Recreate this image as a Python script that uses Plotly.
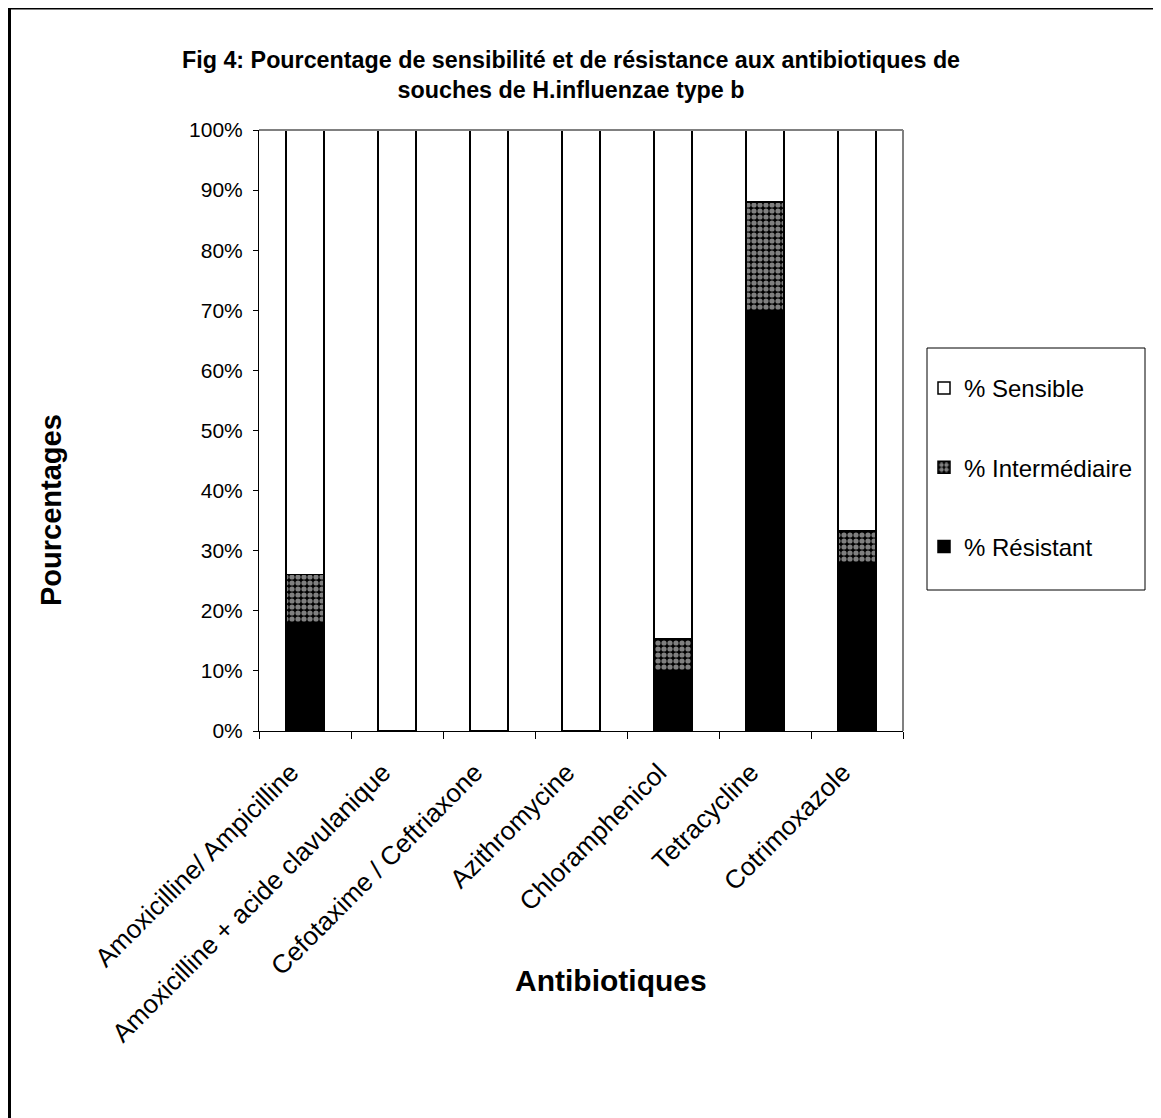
import plotly.graph_objects as go

# the page body adds an 8px margin, so the figure is a bit smaller than the window
W, H = 1153, 1110
OFF = 8
# plot area in window pixels
PL, PR, PT, PB = 259, 903, 130, 731

antibiotiques = [
    "Amoxicilline/ Ampicilline",
    "Amoxicilline + acide clavulanique",
    "Cefotaxime / Ceftriaxone",
    "Azithromycine",
    "Chloramphenicol",
    "Tetracycline",
    "Cotrimoxazole",
]
resistant = [18, 0, 0, 0, 10, 70, 28]
intermediaire = [8, 0, 0, 0, 5.3, 18, 5.3]
sensible = [74, 100, 100, 100, 84.7, 12, 66.7]
y_ticks = list(range(0, 101, 10))
y_tick_labels = [f"{v}%" for v in y_ticks]

FONT = "Liberation Sans, Arial, sans-serif"


def px(x):
    return (x - PL) / (PR - PL)


def py(y):
    return (PB - y) / (PB - PT)


line = dict(color="black", width=1.5)
fig = go.Figure()
fig.add_trace(go.Bar(
    x=antibiotiques, y=resistant, name="% Résistant", legendgroup="r", legendrank=3,
    marker=dict(color="black", line=line),
))
fig.add_trace(go.Bar(
    x=antibiotiques, y=intermediaire, name="% Intermédiaire", legendgroup="i", legendrank=2,
    marker=dict(color="black", line=line,
                pattern=dict(shape=".", fgcolor="white", bgcolor="black", size=6, solidity=0.6)),
))
fig.add_trace(go.Bar(
    x=antibiotiques, y=sensible, name="% Sensible", legendgroup="s", legendrank=1,
    marker=dict(color="white", line=line),
))

shapes = [
    # outer chart border
    dict(type="rect", xref="paper", yref="paper",
         x0=px(9.5), x1=px(1175), y0=py(1130), y1=py(8),
         line=dict(color="black", width=3)),
    # plot area top / right edges
    dict(type="line", xref="paper", yref="paper", x0=0, x1=1, y0=1, y1=1,
         line=dict(color="#808080", width=2)),
    dict(type="line", xref="paper", yref="paper", x0=1, x1=1, y0=0, y1=1,
         line=dict(color="#808080", width=2)),
    # legend box
    dict(type="rect", xref="paper", yref="paper",
         x0=px(927), x1=px(1145), y0=py(590), y1=py(348),
         line=dict(color="black", width=1)),
]

annotations = [
    dict(text="<b>Fig 4: Pourcentage de sensibilité et de résistance aux antibiotiques de<br>"
              "souches de H.influenzae type b</b>",
         xref="paper", yref="paper", x=px(571), y=py(75), showarrow=False,
         xanchor="center", yanchor="middle", font=dict(size=23.3, color="black", family=FONT)),
    dict(text="<b>Pourcentages</b>", xref="paper", yref="paper", x=px(51), y=py(510),
         showarrow=False, textangle=-90, xanchor="center", yanchor="middle",
         font=dict(size=29, color="black", family=FONT)),
    dict(text="<b>Antibiotiques</b>", xref="paper", yref="paper", x=px(611), y=py(980),
         showarrow=False, xanchor="center", yanchor="middle",
         font=dict(size=30, color="black", family=FONT)),
]

fig.update_layout(
    width=W, height=H,
    barmode="stack", bargap=0.59,
    margin=dict(l=PL - OFF, r=W - (PR - OFF), t=PT - OFF, b=H - (PB - OFF), autoexpand=False),
    paper_bgcolor="white", plot_bgcolor="white",
    font=dict(family=FONT, color="black", size=21),
    showlegend=True,
    legend=dict(
        x=px(924), y=py(366), xanchor="left", yanchor="top",
        traceorder="grouped", tracegroupgap=45,
        font=dict(size=24, color="black", family=FONT),
        bgcolor="rgba(0,0,0,0)", borderwidth=0,
    ),
    shapes=shapes,
    annotations=annotations,
)
fig.update_xaxes(
    type="category", showline=True, linecolor="black", linewidth=1,
    ticks="outside", tickson="boundaries", ticklen=7, tickcolor="black",
    tickangle=-45, tickfont=dict(size=26), ticklabelstandoff=15, ticklabelshift=-14,
    showgrid=False, zeroline=False,
)
fig.update_yaxes(
    range=[0, 100], tickvals=y_ticks, ticktext=y_tick_labels,
    showline=True, linecolor="black", linewidth=1,
    ticks="outside", ticklen=5, tickcolor="black", tickfont=dict(size=21),
    ticklabelstandoff=6, showgrid=False, zeroline=False,
)

fig.write_html("out.html")
